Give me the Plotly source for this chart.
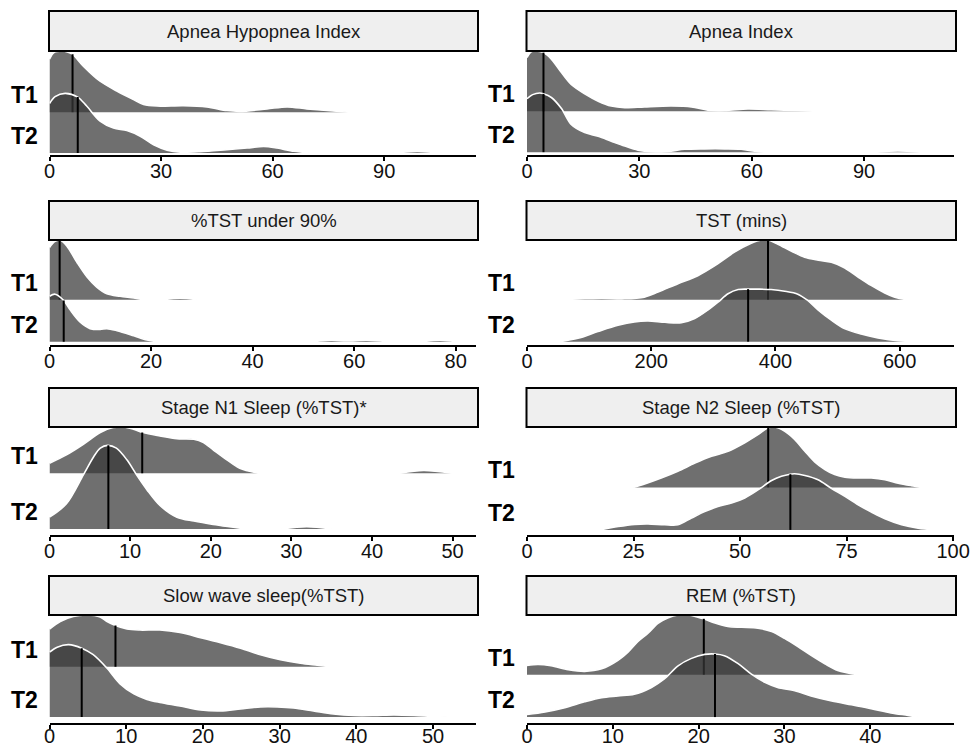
import plotly.graph_objects as go

# ---------------- data ----------------
# heights are in units of the spacing between the two ridge baselines
titles = ["Apnea Hypopnea Index", "Apnea Index", "%TST under 90%", "TST (mins)",
          "Stage N1 Sleep (%TST)*", "Stage N2 Sleep (%TST)", "Slow wave sleep(%TST)", "REM (%TST)"]
groups = ["T1", "T2"]

ahi_t1_x = [0, 1.2, 3.3, 5.0, 6.3, 9.1, 13.6, 18.1, 22.6, 25.3, 28.9, 36, 42.3, 47.7, 51.3, 58.5, 63.9, 69.2, 74.6, 80.5]
ahi_t1_h = [1.30, 1.46, 1.50, 1.47, 1.41, 1.13, 0.76, 0.52, 0.31, 0.19, 0.15, 0.16, 0.13, 0.04, 0.02, 0.08, 0.13, 0.08, 0.04, 0]
ahi_t2_x = [0, 1.5, 4.2, 7.6, 10, 13.6, 17.2, 20.8, 24.4, 28, 31.6, 35.2, 40.5, 47.7, 53.1, 57.6, 61.2, 65.7, 70.1, 92.1, 98.9, 105.6]
ahi_t2_h = [1.21, 1.38, 1.46, 1.37, 1.15, 0.78, 0.61, 0.55, 0.41, 0.2, 0.07, 0.02, 0.03, 0.08, 0.12, 0.16, 0.12, 0.04, 0, 0, 0.04, 0]
ahi_median = [6.2, 7.6]
ahi_median_h = [1.42, 1.37]

ai_t1_x = [0, 1.0, 2.0, 4.4, 6.5, 9.2, 11.8, 15.4, 19, 22.5, 26.1, 31.4, 38.5, 43.9, 48.3, 52.8, 59, 65.2, 72.3, 77.7]
ai_t1_h = [1.32, 1.45, 1.48, 1.44, 1.28, 0.95, 0.66, 0.43, 0.25, 0.13, 0.09, 0.11, 0.13, 0.11, 0.03, 0.02, 0.06, 0.04, 0.02, 0]
ai_t2_x = [0, 1.5, 3.4, 4.4, 6.5, 9.2, 11.8, 15.4, 19, 22.5, 26.1, 29.6, 33.2, 37.6, 42.1, 47.4, 52.8, 57.2, 60.8, 63.4, 93.2, 99, 105.2]
ai_t2_h = [1.31, 1.41, 1.45, 1.43, 1.34, 1.07, 0.68, 0.48, 0.39, 0.27, 0.15, 0.05, 0.01, 0.02, 0.07, 0.08, 0.08, 0.07, 0.02, 0, 0, 0.03, 0]
ai_median = [4.4, 4.4]
ai_median_h = [1.44, 1.43]

tst90_t1_x = [0, 1.0, 2.0, 3.4, 5.4, 7.4, 9.3, 11.3, 13.9, 16.6, 18.5, 22.5, 25.7, 29]
tst90_t1_h = [1.24, 1.38, 1.42, 1.28, 0.89, 0.54, 0.30, 0.14, 0.08, 0.04, 0, 0, 0.035, 0]
tst90_t2_x = [0, 1.1, 2.8, 4.1, 6, 8, 10, 11.3, 13.3, 16.6, 19.2, 21.1, 52, 55.5, 58.5, 62.5, 66.5, 73.5, 77, 80]
tst90_t2_h = [1.08, 1.13, 0.98, 0.75, 0.47, 0.31, 0.29, 0.31, 0.26, 0.14, 0.04, 0, 0, 0.035, 0.015, 0.035, 0, 0, 0.035, 0]
tst90_median = [2.0, 2.8]
tst90_median_h = [1.40, 0.98]

tst_t1_x = [52.6, 93, 120, 157, 189, 211, 243, 275, 307, 334, 361, 377, 388, 404, 426, 447, 469, 490, 511, 533, 554, 576, 592, 611]
tst_t1_h = [0, 0.02, 0.03, 0.02, 0.06, 0.18, 0.38, 0.57, 0.85, 1.13, 1.34, 1.42, 1.42, 1.32, 1.15, 1.01, 0.94, 0.89, 0.76, 0.54, 0.34, 0.16, 0.06, 0]
tst_t2_x = [52.6, 82, 114, 146.5, 173, 195, 222, 248.5, 270, 291, 307.5, 323.6, 340, 356, 372, 393, 415, 436, 452, 469, 490, 511, 538, 565, 597, 627]
tst_t2_h = [0, 0.08, 0.24, 0.39, 0.47, 0.49, 0.46, 0.45, 0.55, 0.75, 0.94, 1.14, 1.24, 1.25, 1.25, 1.24, 1.20, 1.13, 0.98, 0.75, 0.51, 0.31, 0.18, 0.09, 0.02, 0]
tst_median = [388, 356]
tst_median_h = [1.41, 1.25]

n1_t1_x = [0, 2.1, 4.2, 6.3, 7.9, 9.2, 10.4, 11.6, 13.7, 15.8, 17.9, 19.1, 20.3, 22, 23.6, 25.9, 43.5, 46.4, 49.9]
n1_t1_h = [0.18, 0.33, 0.52, 0.73, 0.82, 0.83, 0.79, 0.73, 0.67, 0.62, 0.61, 0.55, 0.42, 0.24, 0.09, 0, 0, 0.05, 0]
n1_t2_x = [0, 2.1, 4.2, 5.5, 6.3, 7.2, 8.3, 9.6, 10.8, 12.1, 13.7, 15.8, 17.9, 20.3, 22.8, 24.3, 28.8, 31.9, 35]
n1_t2_h = [0.21, 0.45, 0.97, 1.30, 1.45, 1.50, 1.45, 1.24, 0.97, 0.70, 0.42, 0.21, 0.14, 0.08, 0.03, 0, 0, 0.04, 0]
n1_median = [11.5, 7.3]
n1_median_h = [0.73, 1.50]

n2_t1_x = [24.9, 27.6, 31.5, 35.4, 39.4, 43.3, 47.2, 51.1, 54.2, 56.6, 58.1, 60.5, 62.8, 65.2, 67.5, 69.9, 72.2, 74.6, 77.7, 80.8, 84, 87.1, 90.2, 92.6]
n2_t1_h = [0, 0.08, 0.22, 0.38, 0.57, 0.73, 0.85, 1.05, 1.24, 1.40, 1.42, 1.32, 1.13, 0.85, 0.60, 0.42, 0.30, 0.24, 0.22, 0.22, 0.18, 0.10, 0.04, 0]
n2_t2_x = [17.1, 21.4, 25.3, 28.4, 32.3, 35.4, 38.6, 41.7, 44.8, 48, 51.1, 54.2, 57.4, 59.7, 61.7, 62.8, 65.2, 68.3, 71.4, 74.6, 77.7, 80.8, 84, 87.9, 91.8, 95.7]
n2_t2_h = [0, 0.08, 0.13, 0.14, 0.12, 0.12, 0.28, 0.43, 0.55, 0.63, 0.75, 0.94, 1.16, 1.26, 1.31, 1.32, 1.28, 1.18, 0.98, 0.79, 0.59, 0.42, 0.26, 0.12, 0.04, 0]
n2_median = [56.6, 61.8]
n2_median_h = [1.40, 1.31]

sws_t1_x = [0, 1.4, 3.1, 4.9, 6.6, 7.5, 8.6, 10.1, 11.8, 14.4, 17, 19.7, 22.3, 24.9, 27.5, 30.1, 32.7, 34.9, 36.6]
sws_t1_h = [0.75, 0.90, 1.0, 1.03, 0.99, 0.90, 0.82, 0.75, 0.73, 0.73, 0.68, 0.58, 0.48, 0.37, 0.24, 0.14, 0.07, 0.03, 0]
sws_t2_x = [0, 1.0, 2.5, 4.2, 5.7, 7.5, 9.2, 11, 12.7, 14.4, 17, 19.7, 22.3, 24.9, 27.5, 29.7, 31.8, 34.4, 37, 39.7, 42.3, 44.9, 47.5, 50.1, 52]
sws_t2_h = [1.29, 1.39, 1.44, 1.37, 1.24, 0.97, 0.66, 0.46, 0.35, 0.29, 0.22, 0.14, 0.12, 0.16, 0.20, 0.20, 0.18, 0.12, 0.06, 0.03, 0.03, 0.04, 0.03, 0.01, 0]
sws_median = [8.6, 4.2]
sws_median_h = [0.82, 1.37]

rem_t1_x = [0, 1.3, 2.8, 4.8, 6.7, 8.7, 10.6, 11.8, 12.9, 14.1, 15.3, 16.4, 17.6, 18.8, 19.9, 20.6, 21.9, 23.4, 25, 26.9, 28.5, 30, 31.6, 33.1, 34.7, 36.2, 38.6]
rem_t1_h = [0.22, 0.24, 0.21, 0.12, 0.08, 0.14, 0.34, 0.54, 0.78, 0.98, 1.22, 1.34, 1.41, 1.41, 1.36, 1.32, 1.22, 1.14, 1.12, 1.10, 1.02, 0.86, 0.66, 0.46, 0.26, 0.10, 0]
rem_t2_x = [0, 2.1, 4.4, 6.7, 8.7, 10.6, 12.5, 14.5, 16, 17.6, 19.1, 20.7, 21.9, 23, 24.6, 26.1, 27.7, 29.2, 31.2, 33.1, 35.5, 37.8, 40.1, 42.4, 44.4, 45.6]
rem_t2_h = [0.06, 0.12, 0.22, 0.36, 0.46, 0.50, 0.54, 0.70, 0.90, 1.21, 1.38, 1.48, 1.49, 1.45, 1.26, 1.02, 0.82, 0.70, 0.62, 0.50, 0.38, 0.29, 0.20, 0.10, 0.04, 0]
rem_median = [20.6, 21.9]
rem_median_h = [1.32, 1.49]

x_max = [114.7, 114.0, 84.0, 687.5, 52.9, 100.2, 55.6, 49.75]
x_ticks = [[0, 30, 60, 90], [0, 30, 60, 90], [0, 20, 40, 60, 80], [0, 200, 400, 600],
           [0, 10, 20, 30, 40, 50], [0, 25, 50, 75, 100], [0, 10, 20, 30, 40, 50], [0, 10, 20, 30, 40]]

# ---------------- assemble ----------------
panels = [
    (ahi_t1_x, ahi_t1_h, ahi_t2_x, ahi_t2_h, ahi_median, ahi_median_h),
    (ai_t1_x, ai_t1_h, ai_t2_x, ai_t2_h, ai_median, ai_median_h),
    (tst90_t1_x, tst90_t1_h, tst90_t2_x, tst90_t2_h, tst90_median, tst90_median_h),
    (tst_t1_x, tst_t1_h, tst_t2_x, tst_t2_h, tst_median, tst_median_h),
    (n1_t1_x, n1_t1_h, n1_t2_x, n1_t2_h, n1_median, n1_median_h),
    (n2_t1_x, n2_t1_h, n2_t2_x, n2_t2_h, n2_median, n2_median_h),
    (sws_t1_x, sws_t1_h, sws_t2_x, sws_t2_h, sws_median, sws_median_h),
    (rem_t1_x, rem_t1_h, rem_t2_x, rem_t2_h, rem_median, rem_median_h),
]


def segments(xs, hs):
    """Split a ridge into pieces wherever two consecutive zero heights leave a gap."""
    out, cur = [], [0]
    for k in range(1, len(xs)):
        if hs[k] == 0 and hs[k - 1] == 0:
            out.append(cur)
            cur = [k]
        else:
            cur.append(k)
    out.append(cur)
    return [([xs[k] for k in s], [hs[k] for k in s]) for s in out if len(s) > 1]


W, H = 970, 748
col_px = [(49.5, 476.0), (527.0, 954.0)]
# strip top, strip bottom (= panel top), axis line (panel bottom)
row_px = [(11, 51, 155), (201, 240, 345), (388, 427, 535), (576, 615, 723)]
row_standoff = [-7, -7, -7, -10]
y_pad = [0.05, 0.07, 0.08, 0.08, 0.11, 0.12, 0.12, 0.14]

FILL = "rgba(55,55,55,0.72)"
FONT = "Liberation Sans, Arial, sans-serif"

fig = go.Figure()
layout = dict(width=W, height=H, margin=dict(l=0, r=0, t=0, b=0, autoexpand=False),
              paper_bgcolor="white", plot_bgcolor="white", showlegend=False)
shapes, annotations = [], []

for i, (x1, h1, x2, h2, med, med_h) in enumerate(panels):
    r, c = divmod(i, 2)
    xa = "x" if i == 0 else f"x{i+1}"
    ya = "y" if i == 0 else f"y{i+1}"
    xl, xr = col_px[c]
    st, sb, ab = row_px[r]
    bases = [1.0, 0.0]
    for g, (xs, hs) in enumerate([(x1, h1), (x2, h2)]):
        b = bases[g]
        for sx, sh in segments(xs, hs):
            fig.add_trace(go.Scatter(x=sx, y=[b] * len(sx), xaxis=xa, yaxis=ya, mode="lines",
                                     line=dict(width=0, color="rgba(0,0,0,0)"), hoverinfo="skip"))
            fig.add_trace(go.Scatter(x=sx, y=[b + v for v in sh], xaxis=xa, yaxis=ya, mode="lines",
                                     fill="tonexty", fillcolor=FILL,
                                     line=dict(color="white", width=1.6, shape="spline", smoothing=0.9),
                                     hoverinfo="skip"))
        fig.add_trace(go.Scatter(x=[med[g], med[g]], y=[b, b + med_h[g]], xaxis=xa, yaxis=ya,
                                 mode="lines", line=dict(color="black", width=2), hoverinfo="skip"))
    top = max(1 + max(h1), max(h2))
    dom_x = [xl / W, xr / W]
    dom_y = [1 - ab / H, 1 - sb / H]
    kx = "xaxis" if i == 0 else f"xaxis{i+1}"
    ky = "yaxis" if i == 0 else f"yaxis{i+1}"
    layout[kx] = dict(domain=dom_x, anchor=ya, range=[0, x_max[i]], tickvals=x_ticks[i],
                      ticktext=[str(t) for t in x_ticks[i]],
                      showline=True, linecolor="black", linewidth=2, ticks="outside",
                      ticklen=4, tickwidth=1.5, tickcolor="black", showgrid=False, zeroline=False,
                      ticklabelstandoff=row_standoff[r],
                      tickfont=dict(family=FONT, size=20, color="#111111"), fixedrange=True)
    layout[ky] = dict(domain=dom_y, anchor=xa, range=[-y_pad[i], top], visible=False, fixedrange=True)
    # strip
    shapes.append(dict(type="rect", xref="paper", yref="paper", x0=(xl - 0.5) / W, x1=(xr + 2) / W,
                       y0=1 - sb / H, y1=1 - st / H, fillcolor="#efefef",
                       line=dict(color="black", width=2), layer="above"))
    annotations.append(dict(xref="paper", yref="paper", x=(xl + xr + 1.5) / 2 / W, y=1 - (st + sb) / 2 / H,
                            text=titles[i], showarrow=False, xanchor="center", yanchor="middle",
                            font=dict(family=FONT, size=18.5, color="#1a1a1a")))
    for g in range(2):
        annotations.append(dict(xref="paper", yref=ya, x=xl / W, y=bases[g], xanchor="right",
                                yanchor="middle", xshift=-10, yshift=17, showarrow=False,
                                text=f"<b>{groups[g]}</b>",
                                font=dict(family=FONT, size=23, color="black")))

layout["shapes"] = shapes
layout["annotations"] = annotations
fig.update_layout(**layout)
fig.write_html("out.html", config={"displayModeBar": False},
               post_script="document.body.style.margin='0px';document.body.style.overflow='hidden';")
